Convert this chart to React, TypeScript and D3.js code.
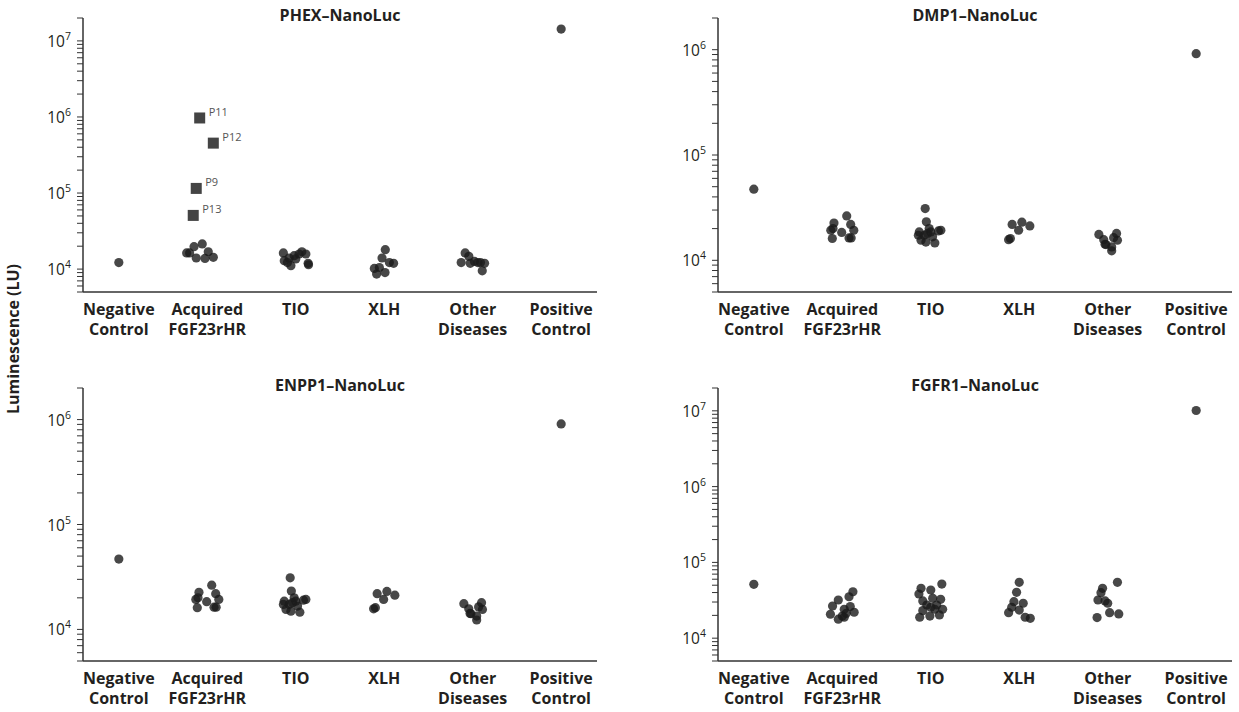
import React from "react";
import * as d3 from "d3";

// category labels (one or two lines each)
const categories = [
  ["Negative", "Control"],
  ["Acquired", "FGF23rHR"],
  ["TIO"],
  ["XLH"],
  ["Other", "Diseases"],
  ["Positive", "Control"],
];

// each point: [horizontal jitter in category steps, luminescence (LU)]
type Pt = [number, number];

const phexNegative: Pt[] = [[0, 12200]];
const phexAcquired: Pt[] = [
  [-0.2, 16300], [-0.233, 16300], [-0.15, 19700], [-0.057, 21400],
  [0.011, 16900], [-0.125, 14000], [-0.026, 13800], [0.068, 14300],
];
const phexTio: Pt[] = [
  [-0.14, 16300], [-0.13, 12900], [-0.055, 11100], [-0.075, 14000],
  [-0.018, 15000], [0.038, 15800], [0.069, 16900], [0.114, 15800],
  [0.144, 11400], [0.14, 11900], [0, 13600], [-0.094, 12200],
];
const phexXlh: Pt[] = [
  [0.012, 18000], [-0.025, 14000], [0.058, 12200], [0.106, 11900],
  [-0.112, 10200], [-0.055, 10500], [-0.086, 8600], [0.009, 9000],
];
const phexOther: Pt[] = [
  [-0.085, 16300], [-0.044, 14700], [-0.13, 12200], [-0.028, 11900],
  [0.02, 12600], [0.088, 12200], [0.134, 11900], [0.108, 9500], [0.058, 12200],
];
const phexPositive: Pt[] = [[0, 14300000]];
// flagged patients in the acquired group (drawn as squares)
const phexFlaggedNames = ["P11", "P12", "P9", "P13"];
const phexFlagged: Pt[] = [
  [-0.086, 970000], [0.068, 453000], [-0.125, 115000], [-0.159, 50800],
];

const dmp1Negative: Pt[] = [[0, 47400]];
const dmp1Acquired: Pt[] = [
  [-0.094, 22600], [0.05, 26400], [-0.13, 19300], [-0.105, 20000],
  [-0.007, 18400], [0.095, 21900], [0.13, 19300], [-0.113, 16100],
  [0.076, 16300], [0.1, 16300],
];
const dmp1Tio: Pt[] = [
  [-0.063, 31000], [-0.05, 23200], [-0.13, 18600], [-0.11, 15500],
  [-0.055, 14900], [0.046, 14600], [-0.018, 20000], [0, 18600],
  [-0.075, 17300], [0.02, 16700], [0.114, 19300], [-0.14, 17300],
  [-0.037, 18000], [0.087, 19000],
];
const dmp1Xlh: Pt[] = [
  [-0.08, 21900], [0.03, 23000], [0.12, 21200], [-0.007, 19300],
  [-0.1, 16100], [-0.12, 15700],
];
const dmp1Other: Pt[] = [
  [-0.1, 17600], [-0.045, 15700], [-0.02, 14100], [0.045, 13400],
  [0.045, 12300], [0.067, 16400], [0.1, 18000], [0.11, 15500], [-0.03, 14200],
];
const dmp1Positive: Pt[] = [[0, 916000]];

const enpp1Negative: Pt[] = [[0, 46800]];
const enpp1Acquired: Pt[] = [
  [-0.094, 22600], [0.05, 26400], [-0.13, 19300], [-0.105, 20000],
  [-0.007, 18400], [0.095, 21900], [0.13, 19300], [-0.113, 16100],
  [0.076, 16300], [0.1, 16300],
];
const enpp1Tio: Pt[] = [
  [-0.063, 31000], [-0.05, 23200], [-0.13, 18600], [-0.11, 15500],
  [-0.055, 14900], [0.046, 14600], [-0.018, 20000], [0, 18600],
  [-0.075, 17300], [0.02, 16700], [0.114, 19300], [-0.14, 17300],
  [-0.037, 18000], [0.087, 19000],
];
const enpp1Xlh: Pt[] = [
  [-0.08, 21900], [0.03, 23000], [0.12, 21200], [-0.007, 19300],
  [-0.1, 16100], [-0.12, 15700],
];
const enpp1Other: Pt[] = [
  [-0.1, 17600], [-0.045, 15700], [-0.02, 14100], [0.045, 13400],
  [0.045, 12300], [0.067, 16400], [0.1, 18000], [0.11, 15500], [-0.03, 14200],
];
const enpp1Positive: Pt[] = [[0, 910000]];

const fgfr1Negative: Pt[] = [[0, 51400]];
const fgfr1Acquired: Pt[] = [
  [-0.11, 26600], [-0.045, 31900], [0.12, 41000], [0.076, 35200],
  [-0.134, 20700], [-0.045, 17800], [0.022, 18900], [0.022, 24100],
  [0.09, 26100], [0.134, 22000], [0.045, 21300], [0, 19600],
];
const fgfr1Tio: Pt[] = [
  [-0.11, 45500], [0, 43200], [0.125, 51700], [-0.134, 38300],
  [-0.09, 31000], [0.022, 33600], [0.112, 32600], [-0.045, 27400],
  [0.067, 27400], [-0.09, 23100], [0.045, 24100], [0.134, 24100],
  [-0.125, 18900], [-0.01, 19600], [0.098, 20300], [0, 25600],
];
const fgfr1Xlh: Pt[] = [
  [0, 54600], [-0.03, 40300], [-0.06, 30300], [0.045, 28900],
  [-0.085, 25600], [0, 23500], [-0.12, 21700], [0.067, 18900], [0.125, 18300],
];
const fgfr1Other: Pt[] = [
  [0.11, 54600], [-0.058, 45500], [-0.076, 39800], [-0.11, 31900],
  [-0.03, 31000], [0, 28900], [0.022, 21700], [0.125, 20900], [-0.12, 18700],
];
const fgfr1Positive: Pt[] = [[0, 10100000]];

const W = 1239;
const H = 712;
const plotWidth = 514;
const ink = "#231f20";
const font = "'Open Sans', sans-serif";

const panels = [
  {
    title: "PHEX\u2013NanoLuc", left: 83, top: 18, bottom: 292, domain: [5e3, 2e7],
    groups: [phexNegative, phexAcquired, phexTio, phexXlh, phexOther, phexPositive],
    flagged: phexFlagged, flaggedNames: phexFlaggedNames,
  },
  {
    title: "DMP1\u2013NanoLuc", left: 718, top: 18, bottom: 292, domain: [5e3, 2e6],
    groups: [dmp1Negative, dmp1Acquired, dmp1Tio, dmp1Xlh, dmp1Other, dmp1Positive],
  },
  {
    title: "ENPP1\u2013NanoLuc", left: 83, top: 388, bottom: 661, domain: [5e3, 2e6],
    groups: [enpp1Negative, enpp1Acquired, enpp1Tio, enpp1Xlh, enpp1Other, enpp1Positive],
  },
  {
    title: "FGFR1\u2013NanoLuc", left: 718, top: 388, bottom: 661, domain: [5e3, 2e7],
    groups: [fgfr1Negative, fgfr1Acquired, fgfr1Tio, fgfr1Xlh, fgfr1Other, fgfr1Positive],
  },
];

function Panel({ p }: { p: any }) {
  const keys = categories.map((c) => c.join(" "));
  const x = d3
    .scalePoint<string>()
    .domain(keys)
    .range([p.left, p.left + plotWidth])
    .padding(0.405);
  const step = x.step();
  const y = d3.scaleLog().domain(p.domain).range([p.bottom, p.top]);
  const ticks = y.ticks();
  const isMajor = (t: number) => Math.abs(Math.log10(t) - Math.round(Math.log10(t))) < 1e-9;
  const px = (k: string, j: number) => (x(k) as number) + j * step;

  return (
    <g>
      <text
        x={p.left + plotWidth / 2}
        y={p.top + 3}
        textAnchor="middle"
        fontSize={16}
        fontWeight={700}
        fill={ink}
      >
        {p.title}
      </text>

      {/* y axis */}
      <line x1={p.left} x2={p.left} y1={p.top} y2={p.bottom} stroke="#333" strokeWidth={1.5} />
      {ticks.map((t, i) => (
        <line
          key={i}
          x1={p.left - 6}
          x2={p.left}
          y1={y(t)}
          y2={y(t)}
          stroke="#333"
          strokeWidth={1}
        />
      ))}
      {ticks.filter(isMajor).map((t, i) => (
        <text
          key={"l" + i}
          x={p.left - 12}
          y={y(t) + 6}
          textAnchor="end"
          fontSize={15.5}
          fill={ink}
        >
          10
          <tspan fontSize={10.5} dy={-7}>
            {Math.round(Math.log10(t))}
          </tspan>
        </text>
      ))}

      {/* x axis */}
      <line
        x1={p.left}
        x2={p.left + plotWidth}
        y1={p.bottom}
        y2={p.bottom}
        stroke="#333"
        strokeWidth={1.5}
      />
      {categories.map((lines, i) => (
        <text
          key={"c" + i}
          x={x(keys[i])}
          y={p.bottom + 23}
          textAnchor="middle"
          fontSize={16}
          fontWeight={700}
          fill={ink}
        >
          {lines.map((s, j) => (
            <tspan key={j} x={x(keys[i])} dy={j === 0 ? 0 : 20}>
              {s}
            </tspan>
          ))}
        </text>
      ))}

      {/* points */}
      {p.groups.map((pts: Pt[], gi: number) =>
        pts.map(([j, v], k) => (
          <circle
            key={gi + "-" + k}
            cx={px(keys[gi], j)}
            cy={y(v)}
            r={4.6}
            fill="#1a1a1a"
            fillOpacity={0.8}
          />
        ))
      )}
      {p.flagged &&
        p.flagged.map(([j, v]: Pt, k: number) => (
          <g key={"f" + k}>
            <rect
              x={px(keys[1], j) - 5.5}
              y={y(v) - 5.5}
              width={11}
              height={11}
              fill="#444"
            />
            <text
              x={px(keys[1], j) + 9}
              y={y(v) - 2}
              fontSize={11}
              fill="#555"
            >
              {p.flaggedNames[k]}
            </text>
          </g>
        ))}
    </g>
  );
}

export default function App() {
  return (
    <svg
      width={W}
      height={H}
      style={{ position: "absolute", left: 0, top: 0, background: "#fff" }}
      fontFamily={font}
    >
      <rect width={W} height={H} fill="#fff" />
      <text
        transform={`translate(19,339) rotate(-90)`}
        textAnchor="middle"
        fontSize={16}
        fontWeight={700}
        fill={ink}
      >
        Luminescence (LU)
      </text>
      {panels.map((p, i) => (
        <Panel key={i} p={p} />
      ))}
    </svg>
  );
}
